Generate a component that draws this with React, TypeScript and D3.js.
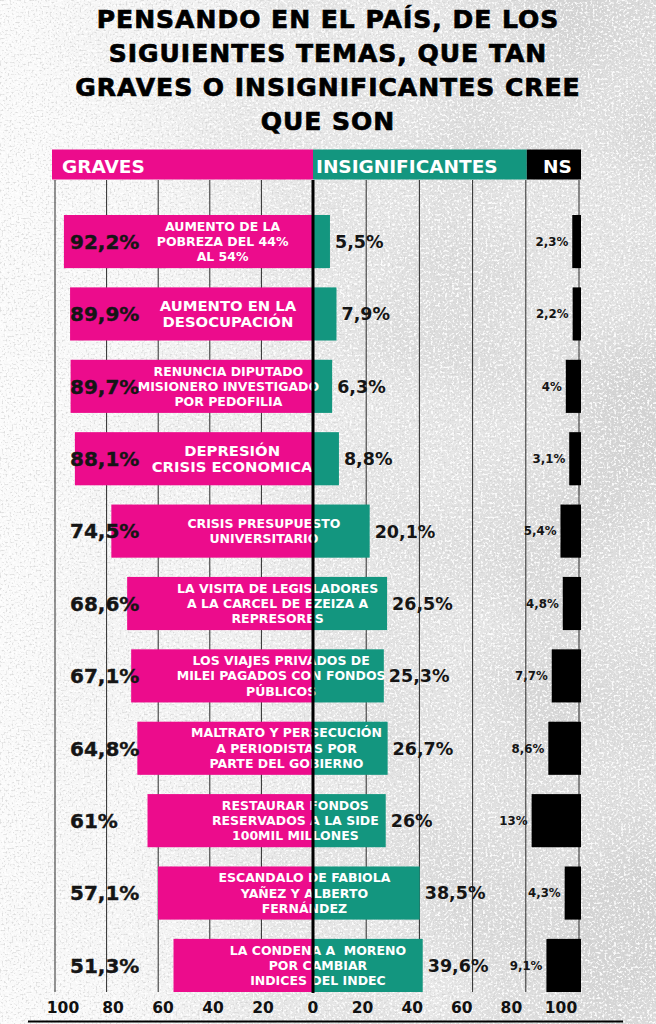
import React from "react";
import * as d3 from "d3";

const W = 656;
const H = 1024;

const titleLines = [
  "PENSANDO EN EL PAÍS, DE LOS",
  "SIGUIENTES TEMAS, QUE TAN",
  "GRAVES O INSIGNIFICANTES CREE",
  "QUE SON",
];

const headerLabels = ["GRAVES", "INSIGNIFICANTES", "NS"];

const topics: string[][] = [
  ["AUMENTO DE LA", "POBREZA DEL 44%", "AL 54%"],
  ["AUMENTO EN LA", "DESOCUPACIÓN"],
  ["RENUNCIA DIPUTADO", "MISIONERO INVESTIGADO", "POR PEDOFILIA"],
  ["DEPRESIÓN", "CRISIS ECONOMICA"],
  ["CRISIS PRESUPUESTO", "UNIVERSITARIO"],
  ["LA VISITA DE LEGISLADORES", "A LA CARCEL DE EZEIZA A", "REPRESORES"],
  ["LOS VIAJES PRIVADOS DE", "MILEI PAGADOS CON FONDOS", "PÚBLICOS"],
  ["MALTRATO Y PERSECUCIÓN", "A PERIODISTAS POR", "PARTE DEL GOBIERNO"],
  ["RESTAURAR FONDOS", "RESERVADOS A LA SIDE", "100MIL MILLONES"],
  ["ESCANDALO DE FABIOLA", "YAÑEZ Y ALBERTO", "FERNÁNDEZ"],
  ["LA CONDENA A  MORENO", "POR CAMBIAR", "INDICES DEL INDEC"],
];

const graves = [92.2, 89.9, 89.7, 88.1, 74.5, 68.6, 67.1, 64.8, 61, 57.1, 51.3];
const insignificantes = [5.5, 7.9, 6.3, 8.8, 20.1, 26.5, 25.3, 26.7, 26, 38.5, 39.6];
const ns = [2.3, 2.2, 4, 3.1, 5.4, 4.8, 7.7, 8.6, 13, 4.3, 9.1];

const leftTicks = [100, 80, 60, 40, 20, 0];
const rightTicks = [20, 40, 60, 80, 100];

const PINK = "#ec0c8c";
const TEAL = "#13967f";
const DV = "'DejaVu Sans', Verdana, sans-serif";

const fmt = (v: number) =>
  (Number.isInteger(v) ? String(v) : v.toFixed(1).replace(".", ",")) + "%";

export default function App() {
  const CX = 313;
  const xG = d3.scaleLinear().domain([0, 100]).range([311, 43]);
  const xI = d3.scaleLinear().domain([0, 100]).range([315, 587]);
  const xN = d3.scaleLinear().domain([0, 100]).range([581, 201]);
  const gridL = d3.scaleLinear().domain([0, 100]).range([CX, 55]);
  const gridR = d3.scaleLinear().domain([0, 100]).range([CX, 579]);
  const tickL = d3.scaleLinear().domain([0, 100]).range([CX, 63]);
  const tickR = d3.scaleLinear().domain([0, 100]).range([CX, 561]);
  const y = d3
    .scaleBand<number>()
    .domain(d3.range(topics.length))
    .range([215, 992])
    .paddingInner(0.266)
    .paddingOuter(0);
  const bw = y.bandwidth();
  const gridTop = 180;
  const gridBottom = 992;
  const largeLabels = new Set([1, 3]);

  return (
    <svg
      width={W}
      height={H}
      viewBox={`0 0 ${W} ${H}`}
      style={{ position: "absolute", left: 0, top: 0, display: "block" }}
    >
      <defs>
        <filter id="specks" x="0" y="0" width={W} height={H} filterUnits="userSpaceOnUse">
          <feTurbulence type="fractalNoise" baseFrequency="0.5" numOctaves="2" seed="5" result="n" />
          <feColorMatrix
            in="n"
            type="matrix"
            values="0 0 0 0 0.6  0 0 0 0 0.6  0 0 0 0 0.6  5 0 0 0 -2.75"
          />
        </filter>
        <filter id="holes" x="0" y="0" width={W} height={H} filterUnits="userSpaceOnUse">
          <feTurbulence type="fractalNoise" baseFrequency="0.42" numOctaves="2" seed="11" result="n" />
          <feColorMatrix
            in="n"
            type="matrix"
            values="0 0 0 0 1  0 0 0 0 1  0 0 0 0 1  5 0 0 0 -2.5"
          />
        </filter>
        <filter id="clouds" x="0" y="0" width={W} height={H} filterUnits="userSpaceOnUse">
          <feTurbulence type="fractalNoise" baseFrequency="0.006" numOctaves="2" seed="3" result="n" />
          <feColorMatrix
            in="n"
            type="matrix"
            values="0 0 0 0 1  0 0 0 0 1  0 0 0 0 1  2.2 0 0 0 -0.55"
          />
        </filter>
        <linearGradient id="fadeR" x1="0" x2="1" y1="0" y2="0">
          <stop offset="0" stopColor="#fff" stopOpacity="0.05" />
          <stop offset="0.22" stopColor="#fff" stopOpacity="0.25" />
          <stop offset="0.5" stopColor="#fff" stopOpacity="0.7" />
          <stop offset="0.8" stopColor="#fff" stopOpacity="0.95" />
          <stop offset="1" stopColor="#fff" stopOpacity="1" />
        </linearGradient>
        <mask id="maskR">
          <rect x={0} y={0} width={W} height={H} fill="url(#fadeR)" />
        </mask>
      </defs>

      {/* background */}
      <rect x={0} y={0} width={W} height={H} fill="#fbfbfb" />
      <rect x={0} y={0} width={W} height={H} fill="#d3d3d3" mask="url(#maskR)" />
      <rect x={0} y={0} width={W} height={H} filter="url(#clouds)" opacity={0.35} />
      <rect x={0} y={0} width={W} height={H} filter="url(#holes)" opacity={0.9} />
      <rect x={0} y={0} width={W} height={H} filter="url(#specks)" opacity={0.6} />

      {/* title */}
      {titleLines.map((t, i) => (
        <text
          key={"t" + i}
          x={328}
          y={27.5 + i * 34}
          textAnchor="middle"
          fontFamily={DV}
          fontWeight={700}
          fontSize={25}
          letterSpacing={1}
          fill="#000"
          stroke="#000"
          strokeWidth={0.7}
        >
          {t}
        </text>
      ))}

      {/* header */}
      <rect x={52} y={149.5} width={CX - 52} height={30} fill={PINK} />
      <rect x={CX} y={149.5} width={gridR(80) + 1 - CX} height={30} fill={TEAL} />
      <rect x={gridR(80) + 1} y={149.5} width={581 - gridR(80) - 1} height={30} fill="#000" />
      {headerLabels.map((h, i) => (
        <text
          key={"h" + i}
          x={[62, 316, 543][i]}
          y={172.5}
          fontFamily={DV}
          fontWeight={700}
          fontSize={18.5}
          fill="#fff"
        >
          {h}
        </text>
      ))}

      {/* gridlines */}
      {leftTicks.map((t) => (
        <line
          key={"gl" + t}
          x1={gridL(t)}
          x2={gridL(t)}
          y1={gridTop}
          y2={gridBottom}
          stroke="#2a2a2a"
          strokeWidth={1}
        />
      ))}
      {rightTicks.map((t) => (
        <line
          key={"gr" + t}
          x1={gridR(t)}
          x2={gridR(t)}
          y1={gridTop}
          y2={gridBottom}
          stroke="#2a2a2a"
          strokeWidth={1}
        />
      ))}

      {/* bars */}
      {topics.map((lines, i) => {
        const top = y(i) as number;
        const cy = top + bw / 2;
        const g = graves[i];
        const ins = insignificantes[i];
        const n = ns[i];
        const big = largeLabels.has(i);
        const fs = big ? 14.8 : 12.5;
        const pitch = big ? 16 : 15.3;
        const labelX = 167 + 0.87 * xG(g);
        return (
          <g key={"r" + i}>
            <rect x={xG(g)} y={top} width={CX - xG(g)} height={bw} fill={PINK} />
            <rect x={CX} y={top} width={xI(ins) - CX} height={bw} fill={TEAL} />
            <rect x={xN(n)} y={top} width={581 - xN(n)} height={bw} fill="#000" />
            <text
              x={70}
              y={cy + 7.3}
              fontFamily={DV}
              fontWeight={700}
              fontSize={20}
              fill="#151515"
              stroke="#151515"
              strokeWidth={0.4}
            >
              {fmt(g)}
            </text>
            <text
              x={xI(ins) + 5}
              y={cy + 6.4}
              fontFamily={DV}
              fontWeight={700}
              fontSize={17.5}
              fill="#151515"
            >
              {fmt(ins)}
            </text>
            <text
              x={xN(n) - 4}
              y={cy + 4.3}
              textAnchor="end"
              fontFamily={DV}
              fontWeight={700}
              fontSize={11.8}
              fill="#151515"
            >
              {fmt(n)}
            </text>
            {lines.map((l, j) => (
              <text
                key={j}
                x={labelX}
                y={cy + (j - (lines.length - 1) / 2) * pitch + fs * 0.36}
                textAnchor="middle"
                fontFamily={DV}
                fontWeight={700}
                fontSize={fs}
                fill="#fff"
                style={{ whiteSpace: "pre" }}
              >
                {l}
              </text>
            ))}
          </g>
        );
      })}

      {/* center line */}
      <rect x={CX - 1.5} y={gridTop} width={3} height={gridBottom - gridTop + 1} fill="#000" />

      {/* axis tick labels */}
      {leftTicks.map((t) => (
        <text
          key={"tl" + t}
          x={tickL(t)}
          y={1013}
          textAnchor="middle"
          fontFamily={DV}
          fontWeight={700}
          fontSize={15.5}
          fill="#111"
        >
          {t}
        </text>
      ))}
      {rightTicks.map((t) => (
        <text
          key={"tr" + t}
          x={tickR(t)}
          y={1013}
          textAnchor="middle"
          fontFamily={DV}
          fontWeight={700}
          fontSize={15.5}
          fill="#111"
        >
          {t}
        </text>
      ))}

      {/* bottom rule */}
      <line x1={28} x2={623} y1={1021.5} y2={1021.5} stroke="#000" strokeWidth={2} />
    </svg>
  );
}
